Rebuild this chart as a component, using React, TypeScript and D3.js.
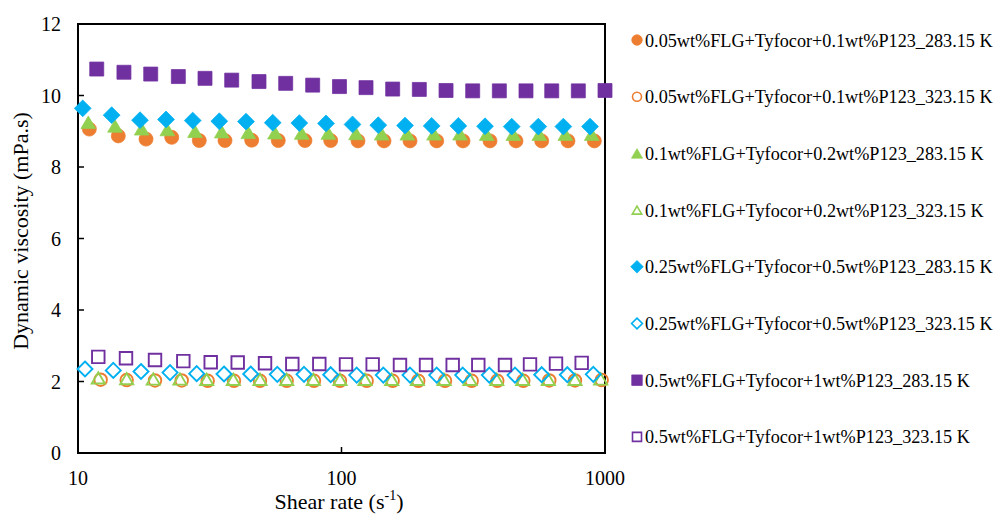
import React from "react";
import * as d3 from "d3";

const W = 995;
const H = 522;

// Shear rate (s^-1) and dynamic viscosity (mPa.s) per series
const x_05_283 = [11.04, 14.22, 18.12, 22.68, 28.86, 36.13, 45.62, 57.56, 72.67, 90.99, 115.5, 145.0, 182.0, 229.8, 289.2, 366.1, 459.4, 575.2, 723.6, 910.9];
const v_05_283 = [9.06, 8.87, 8.78, 8.83, 8.74, 8.74, 8.75, 8.74, 8.74, 8.74, 8.73, 8.73, 8.73, 8.73, 8.73, 8.73, 8.73, 8.73, 8.73, 8.73];
const x_05_323 = [12.19, 15.30, 19.60, 24.75, 31.06, 39.08, 49.06, 61.94, 78.63, 98.70, 124.6, 156.4, 195.6, 247.1, 312.0, 390.2, 489.8, 614.6, 769.2, 971.6];
const v_05_323 = [2.05, 2.04, 2.03, 2.03, 2.02, 2.02, 2.02, 2.02, 2.02, 2.02, 2.02, 2.02, 2.02, 2.02, 2.02, 2.02, 2.02, 2.03, 2.03, 2.04];
const x_1_283 = [10.94, 13.82, 17.45, 21.83, 27.80, 35.12, 44.29, 55.93, 70.63, 89.13, 113.5, 142.1, 177.7, 224.4, 281.7, 355.6, 448.7, 563.2, 707.0, 890.4];
const v_1_283 = [9.25, 9.15, 9.07, 9.05, 9.0, 8.99, 8.97, 8.96, 8.95, 8.95, 8.94, 8.93, 8.93, 8.93, 8.93, 8.92, 8.92, 8.92, 8.92, 8.92];
const x_1_323 = [11.94, 15.30, 19.31, 24.38, 30.79, 38.85, 49.06, 61.94, 78.16, 98.70, 122.8, 155.0, 194.0, 244.9, 307.4, 388.2, 487.2, 609.3, 769.2, 963.1];
const v_1_323 = [2.1, 2.08, 2.07, 2.07, 2.06, 2.06, 2.06, 2.06, 2.06, 2.06, 2.06, 2.06, 2.06, 2.06, 2.06, 2.06, 2.06, 2.06, 2.06, 2.07];
const x_25_283 = [10.42, 13.42, 17.19, 21.58, 27.25, 34.38, 43.41, 54.82, 69.17, 87.35, 110.1, 137.9, 174.2, 219.9, 277.6, 350.5, 442.5, 558.3, 694.9, 877.4];
const v_25_283 = [9.64, 9.45, 9.31, 9.33, 9.30, 9.28, 9.27, 9.24, 9.23, 9.22, 9.19, 9.17, 9.16, 9.15, 9.15, 9.14, 9.13, 9.13, 9.13, 9.13];
const x_25_323 = [10.63, 13.61, 17.34, 22.35, 28.21, 35.82, 45.23, 57.06, 72.06, 90.99, 114.2, 144.1, 182.0, 229.8, 288.4, 363.9, 455.5, 575.2, 719.5, 902.8];
const v_25_323 = [2.35, 2.31, 2.28, 2.25, 2.22, 2.21, 2.21, 2.20, 2.20, 2.19, 2.18, 2.18, 2.18, 2.18, 2.18, 2.18, 2.18, 2.19, 2.19, 2.20];
const x_5_283 = [11.78, 14.94, 18.88, 24.03, 30.34, 38.31, 48.63, 61.41, 77.74, 98.26, 123.9, 156.4, 197.4, 249.3, 314.7, 397.2, 501.4, 627.9, 792.0, 1000];
const v_5_283 = [10.74, 10.65, 10.60, 10.53, 10.48, 10.43, 10.39, 10.34, 10.29, 10.25, 10.22, 10.18, 10.17, 10.14, 10.13, 10.13, 10.13, 10.13, 10.13, 10.14];
const x_5_323 = [11.94, 15.21, 19.60, 25.10, 31.89, 40.37, 51.26, 65.06, 82.38, 104.0, 131.3, 166.7, 209.3, 264.2, 330.5, 417.3, 519.3, 651.7, 815.6];
const v_5_323 = [2.69, 2.65, 2.60, 2.57, 2.54, 2.53, 2.51, 2.49, 2.49, 2.48, 2.48, 2.46, 2.46, 2.46, 2.46, 2.46, 2.48, 2.50, 2.52];

const seriesNames = [
  "0.05wt%FLG+Tyfocor+0.1wt%P123_283.15 K",
  "0.05wt%FLG+Tyfocor+0.1wt%P123_323.15 K",
  "0.1wt%FLG+Tyfocor+0.2wt%P123_283.15 K",
  "0.1wt%FLG+Tyfocor+0.2wt%P123_323.15 K",
  "0.25wt%FLG+Tyfocor+0.5wt%P123_283.15 K",
  "0.25wt%FLG+Tyfocor+0.5wt%P123_323.15 K",
  "0.5wt%FLG+Tyfocor+1wt%P123_283.15 K",
  "0.5wt%FLG+Tyfocor+1wt%P123_323.15 K",
];
const seriesX = [x_05_283, x_05_323, x_1_283, x_1_323, x_25_283, x_25_323, x_5_283, x_5_323];
const seriesV = [v_05_283, v_05_323, v_1_283, v_1_323, v_25_283, v_25_323, v_5_283, v_5_323];
const seriesShape = ["circle", "circle", "triangle", "triangle", "diamond", "diamond", "square", "square"];
const seriesFilled = [true, false, true, false, true, false, true, false];
const seriesColor = ["#ED7D31", "#ED7D31", "#92D050", "#92D050", "#00B0F0", "#00B0F0", "#7030A0", "#7030A0"];

const xTicks = [10, 100, 1000];
const yTicks = [0, 2, 4, 6, 8, 10, 12];

const FONT = "'Liberation Serif', 'Times New Roman', serif";

const M = { left: 78, top: 24, right: 605, bottom: 453 };

function markerPath(shape: string, s: number): string {
  const h = s / 2;
  const p = d3.path();
  if (shape === "circle") {
    p.arc(0, 0, h, 0, Math.PI * 2);
  } else if (shape === "square") {
    p.rect(-h, -h, s, s);
  } else if (shape === "diamond") {
    const r = h * 1.2;
    p.moveTo(0, -r);
    p.lineTo(r, 0);
    p.lineTo(0, r);
    p.lineTo(-r, 0);
    p.closePath();
  } else {
    const th = s * 0.9;
    p.moveTo(0, -th / 2);
    p.lineTo(h * 1.05, th / 2);
    p.lineTo(-h * 1.05, th / 2);
    p.closePath();
  }
  return p.toString();
}

export default function App() {
  const x = d3.scaleLog().domain([10, 1000]).range([M.left, M.right]);
  const y = d3.scaleLinear().domain([0, 12]).range([M.bottom, M.top]);

  const legendX = 637;
  const legendY0 = 40;
  const legendStep = 56.7;

  return (
    <div style={{ position: "fixed", left: 0, top: 0, width: W, height: H, background: "#fff" }}>
      <svg width={W} height={H} style={{ display: "block", fontFamily: FONT }}>
        <rect x={0} y={0} width={W} height={H} fill="#fff" />
        {/* plot frame */}
        <rect
          x={M.left}
          y={M.top}
          width={M.right - M.left}
          height={M.bottom - M.top}
          fill="none"
          stroke="#000"
          strokeWidth={2}
        />
        {/* y ticks */}
        {yTicks.map((t) => (
          <g key={"y" + t}>
            <line x1={M.left} x2={M.left + 6} y1={y(t)} y2={y(t)} stroke="#000" strokeWidth={1.5} />
            <text x={61} y={y(t) + 7} textAnchor="end" fontSize={20} fill="#000">
              {t}
            </text>
          </g>
        ))}
        {/* x ticks */}
        {xTicks.map((t) => (
          <g key={"x" + t}>
            <line x1={x(t)} x2={x(t)} y1={M.bottom} y2={M.bottom - 6} stroke="#000" strokeWidth={1.5} />
            <text x={x(t)} y={485} textAnchor="middle" fontSize={20} fill="#000">
              {t}
            </text>
          </g>
        ))}
        {/* axis titles */}
        <text
          transform={`translate(28, 231) rotate(-90)`}
          textAnchor="middle"
          fontSize={22}
          fill="#000"
        >
          Dynamic viscosity (mPa.s)
        </text>
        <text x={339} y={509} textAnchor="middle" fontSize={22} fill="#000">
          Shear rate (s
          <tspan fontSize={14} dy={-9}>-1</tspan>
          <tspan dy={9}>)</tspan>
        </text>
        {/* series */}
        {seriesNames.map((name, i) => {
          const filled = seriesFilled[i];
          const size = filled ? 14 : 12.5;
          const d = markerPath(seriesShape[i], size);
          return (
            <g key={name}>
              {seriesX[i].map((xv, j) => (
                <path
                  key={j}
                  d={d}
                  transform={`translate(${x(xv)},${y(seriesV[i][j])})`}
                  fill={filled ? seriesColor[i] : "none"}
                  stroke={seriesColor[i]}
                  strokeWidth={filled ? 0.75 : 1.9}
                />
              ))}
            </g>
          );
        })}
        {/* legend */}
        {seriesNames.map((name, i) => {
          const filled = seriesFilled[i];
          const cy = legendY0 + i * legendStep;
          const d = markerPath(seriesShape[i], filled ? 10.5 : 9);
          return (
            <g key={"lg" + i}>
              <path
                d={d}
                transform={`translate(${legendX},${cy})`}
                fill={filled ? seriesColor[i] : "none"}
                stroke={seriesColor[i]}
                strokeWidth={filled ? 0.75 : 1.6}
              />
              <text x={645} y={cy + 6.5} fontSize={18.2} fill="#000">
                {name}
              </text>
            </g>
          );
        })}
      </svg>
    </div>
  );
}
